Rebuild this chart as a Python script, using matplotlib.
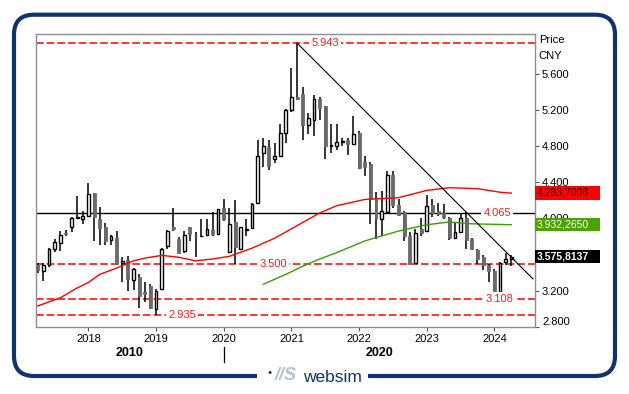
import matplotlib
matplotlib.use('Agg')
import matplotlib.pyplot as plt
import numpy as np
import pandas as pd
from matplotlib.patches import FancyBboxPatch, Rectangle
from matplotlib.transforms import IdentityTransform, ScaledTranslation

plt.rcParams['font.family'] = ['Liberation Sans', 'DejaVu Sans']

# monthly candles, Apr 2017 .. Apr 2024
months = pd.date_range('2017-04-01', periods=85, freq='MS')
opens = [3.48, 3.42, 3.48, 3.66, 3.73, 3.84, 3.91, 4.01, 3.99, 4.03, 4.28, 3.99,
         3.90, 3.76, 3.78, 3.51, 3.54, 3.32, 3.35, 3.19, 3.25, 3.00, 3.22, 3.69,
         3.90, 3.77, 3.64, 3.90, 3.81, 3.80, 3.82, 3.87, 3.83, 4.12, 3.63, 3.96,
         3.66, 3.87, 3.89, 4.17, 4.72, 4.79, 4.66, 4.69, 4.95, 5.20, 5.35, 5.38,
         5.04, 5.09, 5.32, 5.24, 4.80, 4.80, 4.85, 4.87, 4.82, 4.95, 4.63, 4.60,
         4.21, 3.99, 4.07, 4.48, 4.15, 4.07, 3.81, 3.51, 3.88, 3.86, 4.15, 4.08,
         4.06, 4.01, 3.78, 3.85, 4.01, 3.77, 3.65, 3.57, 3.48, 3.42, 3.19, 3.52,
         3.55]
highs = [3.51, 3.51, 3.67, 3.77, 3.86, 3.87, 4.02, 4.25, 4.08, 4.39, 4.28, 4.13,
         3.95, 3.82, 3.86, 3.57, 3.58, 3.45, 3.38, 3.29, 3.27, 3.22, 3.67, 3.87,
         4.12, 3.79, 3.86, 3.91, 3.85, 3.99, 3.99, 4.07, 4.10, 4.22, 4.12, 4.20,
         3.91, 3.99, 4.17, 4.87, 4.89, 4.87, 4.84, 5.05, 5.21, 5.67, 5.943, 5.46,
         5.17, 5.37, 5.35, 5.25, 5.05, 5.05, 4.89, 4.89, 5.14, 4.97, 4.69, 4.62,
         4.29, 4.30, 4.52, 4.52, 4.21, 4.08, 3.85, 3.88, 4.00, 4.26, 4.21, 4.17,
         4.16, 4.02, 3.95, 4.06, 4.07, 3.78, 3.66, 3.59, 3.50, 3.44, 3.52, 3.62,
         3.60]
lows = [3.40, 3.31, 3.46, 3.63, 3.64, 3.80, 3.85, 3.99, 3.94, 4.02, 3.75, 3.70,
        3.71, 3.70, 3.49, 3.29, 3.20, 3.21, 3.01, 3.07, 3.00, 2.935, 3.21, 3.66,
        3.86, 3.62, 3.62, 3.75, 3.57, 3.79, 3.80, 3.80, 3.82, 3.97, 3.63, 3.50,
        3.65, 3.80, 3.88, 4.16, 4.57, 4.54, 4.61, 4.68, 4.84, 5.18, 5.31, 4.87,
        4.93, 4.91, 5.09, 4.66, 4.73, 4.76, 4.80, 4.70, 4.81, 4.55, 4.47, 3.94,
        3.77, 3.80, 4.05, 4.12, 4.03, 3.75, 3.50, 3.50, 3.80, 3.85, 4.02, 4.03,
        3.99, 3.76, 3.77, 3.84, 3.66, 3.65, 3.49, 3.43, 3.30, 3.15, 3.108, 3.48,
        3.47]
closes = [3.43, 3.48, 3.66, 3.74, 3.82, 3.83, 4.01, 4.01, 4.03, 4.27, 4.02, 3.89,
          3.75, 3.80, 3.50, 3.53, 3.33, 3.44, 3.14, 3.16, 3.01, 3.20, 3.66, 3.86,
          3.88, 3.62, 3.82, 3.83, 3.80, 3.81, 3.88, 3.83, 4.10, 3.99, 3.94, 3.68,
          3.90, 3.87, 4.16, 4.69, 4.80, 4.58, 4.69, 4.95, 5.20, 5.35, 5.32, 5.03,
          5.11, 5.32, 5.22, 4.80, 4.80, 4.85, 4.86, 4.82, 4.94, 4.56, 4.57, 4.21,
          4.01, 4.08, 4.48, 4.15, 4.04, 3.81, 3.50, 3.84, 3.84, 4.14, 4.06, 4.05,
          4.02, 3.78, 3.85, 4.01, 3.76, 3.66, 3.55, 3.48, 3.42, 3.20, 3.51, 3.55,
          3.576]

red_ma_months = ['2017-04', '2017-08', '2017-11', '2018-01', '2018-03', '2018-06',
                 '2018-09', '2018-11', '2019-02', '2019-05', '2019-08', '2019-11',
                 '2020-02', '2020-06', '2020-10', '2021-02', '2021-06', '2021-09',
                 '2022-02', '2022-08', '2023-01', '2023-05', '2023-10', '2024-02',
                 '2024-04']
red_ma = [3.03, 3.12, 3.23, 3.29, 3.38, 3.45, 3.53, 3.56, 3.59, 3.57, 3.53, 3.55,
          3.58, 3.67, 3.78, 3.92, 4.06, 4.14, 4.21, 4.23, 4.31, 4.34, 4.33, 4.29,
          4.28]
green_ma_months = ['2020-08', '2020-12', '2021-03', '2021-06', '2021-09', '2022-02',
                   '2022-08', '2023-01', '2023-05', '2023-09', '2024-04']
green_ma = [3.27, 3.38, 3.47, 3.55, 3.62, 3.75, 3.86, 3.93, 3.96, 3.94, 3.93]

dashed_levels = [5.943, 3.500, 3.108, 2.935]
dashed_label_at = [2021.50, 2020.73, 2024.08, 2019.38]
resistance = 4.065
resistance_label_at = 2024.04
trend_x = [2021.083, 2024.57]
trend_y = [5.943, 3.33]

last_values = [4.2837008, 3.9322650, 3.5758137]
last_labels = ['4.283,7008', '3.932,2650', '3.575,8137']
last_colors = ['#ff0000', '#49a300', '#000000']
last_text_colors = ['#2a0000', 'white', 'white']

yticks = [2.8, 3.2, 3.6, 4.0, 4.4, 4.8, 5.2, 5.6]
years = [2018, 2019, 2020, 2021, 2022, 2023, 2024]


def to_year(dates):
    d = pd.DatetimeIndex(dates)
    return np.asarray(d.year + (d.month - 1) / 12.0)


navy = '#10336a'
red = '#ff1a1a'
W, H = 629, 394

fig = plt.figure(figsize=(W / 100, H / 100), dpi=100)
ax = fig.add_axes([35.7 / W, 1 - 326.7 / H, (535 - 35.7) / W, (326.7 - 34.3) / H])
ax.set_xlim(2017.22, 2024.60)
ax.set_ylim(2.80, 6.04)

x = to_year(months)
o = np.array(opens)
c = np.array(closes)
up = c >= o
body_lo = np.minimum(o, c)
body_h = np.maximum(np.abs(c - o), 0.008)

ax.vlines(x, lows, highs, color='black', lw=1.1, zorder=3)
ax.bar(x[up], body_h[up], bottom=body_lo[up], width=0.040, color='white',
       edgecolor='black', linewidth=1.0, zorder=4)
ax.bar(x[~up], body_h[~up], bottom=body_lo[~up], width=0.044, color='#6a6a6a',
       edgecolor='#6a6a6a', linewidth=0.6, zorder=4)

ax.plot(to_year(red_ma_months), red_ma, color='#ff0000', lw=1.0, zorder=5)
ax.plot(to_year(green_ma_months), green_ma, color='#3c9c00', lw=1.0, zorder=5)

ax.plot(trend_x, trend_y, color='black', lw=0.8, zorder=5)

for lvl, lx in zip(dashed_levels, dashed_label_at):
    ax.axhline(lvl, color='#ff0000', lw=1.1, ls=(0, (5, 2)), zorder=2)
    ax.text(lx, lvl, f'{lvl:.3f}', color=red, fontsize=8, ha='center', va='center',
            zorder=6, bbox=dict(fc='white', ec='none', pad=1.5))
ax.axhline(resistance, color='black', lw=1.0, zorder=2)
ax.text(resistance_label_at, resistance, f'{resistance:.3f}', color=red, fontsize=8,
        ha='center', va='center', zorder=6, bbox=dict(fc='white', ec='none', pad=1.5))

# right axis; 3.600 sits under the last-close box, as in the source chart
ax.yaxis.tick_right()
ax.set_yticks(yticks)
ax.set_yticklabels(['' if v == 3.6 else f'{v:.3f}' for v in yticks])
ax.set_xticks(years)
ax.set_xticklabels([str(y) for y in years])
ax.tick_params(axis='both', labelsize=8, length=3, width=0.8, color='#555555', pad=2)
for s in ax.spines.values():
    s.set_color('#8c8c9c')
    s.set_linewidth(1.0)
# lowest price label is nudged up inside the frame
low_lab = ax.get_yticklabels()[0]
low_lab.set_transform(low_lab.get_transform() + ScaledTranslation(0, 6 / 100, fig.dpi_scale_trans))

ax.text(1.008, 0.980, 'Price', transform=ax.transAxes, fontsize=8, va='center')
ax.text(1.006, 0.925, 'CNY', transform=ax.transAxes, fontsize=8, va='center')

# last value boxes
ytr = ax.get_yaxis_transform()
box_h = 0.075
for v, lab, bc, tc in zip(last_values, last_labels, last_colors, last_text_colors):
    ax.add_patch(Rectangle((1.0, v - box_h), 65 / 499.3, 2 * box_h, transform=ytr,
                           facecolor=bc, edgecolor='none', clip_on=False, zorder=10))
    ax.text(1.003, v, lab, transform=ytr, color=tc, fontsize=7.5, va='center',
            ha='left', zorder=11, fontweight='bold' if bc == '#000000' else 'normal')

# decade row
xtr = ax.get_xaxis_transform()
x0, x1 = ax.get_xlim()
for dec in [2010, 2020]:
    lo, hi = max(dec, x0), min(dec + 10, x1)
    ax.text((lo + hi) / 2, -0.09, str(dec), transform=xtr, fontsize=9,
            fontweight='bold', ha='center', va='center')
ax.plot([2020, 2020], [-0.068, -0.12], transform=xtr, color='black', lw=0.9,
        clip_on=False)

# outer frame
frame = FancyBboxPatch((14, H - 376), 601, 361.3, boxstyle='round,pad=0,rounding_size=20',
                       transform=IdentityTransform(), fill=False, edgecolor=navy, lw=3.0)
fig.add_artist(frame)
fig.add_artist(Rectangle((257, H - 385), 111, 16, transform=IdentityTransform(),
                         facecolor='white', edgecolor='none'))
fig.text(269.5 / W, 1 - 373 / H, '\u25CF', color=navy, fontsize=5, ha='center', va='center')
fig.text(286 / W, 1 - 376 / H, '//S', color='#b2c0d4', fontsize=13, fontweight='bold',
         style='italic', ha='center', va='center')
fig.text(332 / W, 1 - 382 / H, 'websim', color=navy, fontsize=12.5, ha='center',
         va='baseline')

fig.savefig('out.png', dpi=100)
